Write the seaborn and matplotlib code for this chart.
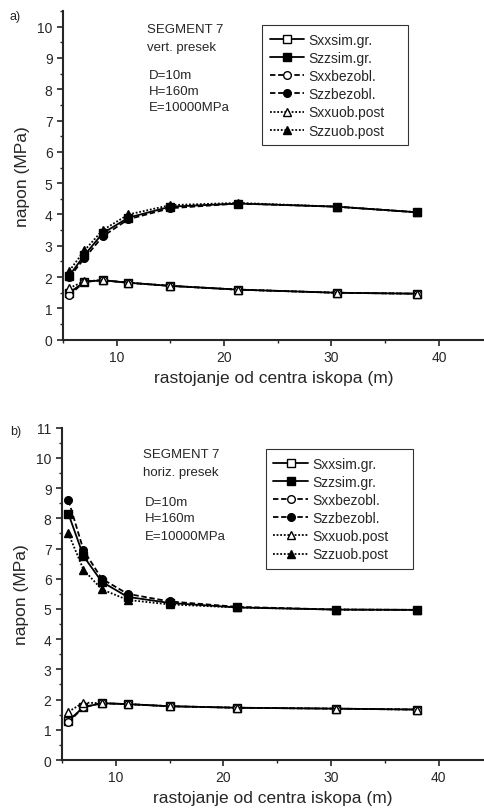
import numpy as np
import matplotlib
matplotlib.use("Agg")
import matplotlib.pyplot as plt
from matplotlib.ticker import MultipleLocator
import seaborn as sns

# rastojanje od centra iskopa (m)
x = [5.6, 7.0, 8.7, 11.1, 15.0, 21.3, 30.5, 38.0]

# a) vertikalni presek
a_sxx_sim = [1.50, 1.85, 1.90, 1.82, 1.72, 1.60, 1.50, 1.47]
a_szz_sim = [2.05, 2.70, 3.40, 3.90, 4.25, 4.35, 4.25, 4.07]
a_sxx_bez = [1.42, 1.85, 1.90, 1.82, 1.72, 1.60, 1.50, 1.47]
a_szz_bez = [2.00, 2.60, 3.30, 3.85, 4.20, 4.35, 4.25, 4.07]
a_sxx_uob = [1.65, 1.87, 1.90, 1.82, 1.72, 1.60, 1.50, 1.47]
a_szz_uob = [2.20, 2.85, 3.50, 4.00, 4.30, 4.37, 4.25, 4.07]

# b) horizontalni presek
b_sxx_sim = [1.30, 1.75, 1.88, 1.85, 1.78, 1.73, 1.70, 1.67]
b_szz_sim = [8.15, 6.75, 5.90, 5.40, 5.20, 5.05, 4.98, 4.97]
b_sxx_bez = [1.25, 1.75, 1.88, 1.85, 1.78, 1.73, 1.70, 1.67]
b_szz_bez = [8.60, 6.95, 6.00, 5.50, 5.25, 5.07, 4.98, 4.97]
b_sxx_uob = [1.60, 1.90, 1.88, 1.85, 1.78, 1.73, 1.70, 1.67]
b_szz_uob = [7.50, 6.30, 5.65, 5.30, 5.15, 5.05, 4.98, 4.97]

labels = ["Sxxsim.gr.", "Szzsim.gr.", "Sxxbezobl.", "Szzbezobl.", "Sxxuob.post", "Szzuob.post"]
markers = ["s", "s", "o", "o", "^", "^"]
fills = ["white", "black", "white", "black", "white", "black"]
styles = ["-", "-", (0, (3, 1.5)), (0, (3, 1.5)), (0, (1, 1)), (0, (1, 1))]

sns.set_style("ticks")
plt.rcParams['font.family'] = ['Liberation Sans', 'DejaVu Sans']

fig = plt.figure(figsize=(4.84, 8.12), dpi=100)
ax_a = fig.add_axes([0.130, 0.5804, 0.870, 0.4048])
ax_b = fig.add_axes([0.128, 0.0628, 0.872, 0.4092])


def draw(ax, series, ymax, yticks_max):
    for i, y in enumerate(series):
        sns.lineplot(x=x, y=y, ax=ax, color="k", marker=markers[i],
                     markerfacecolor=fills[i], markeredgecolor="k",
                     markersize=5.5, markeredgewidth=1.0,
                     linestyle=styles[i], linewidth=1.3, label=labels[i])
    ax.set_xlim(5, 44.2)
    ax.set_ylim(0, ymax)
    ax.xaxis.set_major_locator(MultipleLocator(10))
    ax.xaxis.set_minor_locator(MultipleLocator(5))
    ax.yaxis.set_major_locator(MultipleLocator(1))
    ax.yaxis.set_minor_locator(MultipleLocator(0.5))
    ax.set_yticks(np.arange(0, yticks_max + 1, 1))
    ax.tick_params(which="major", direction="out", length=4, width=1.2, labelsize=10)
    ax.tick_params(which="minor", direction="out", length=2.5, width=1.0)
    for s in ["top", "right"]:
        ax.spines[s].set_visible(False)
    for s in ["left", "bottom"]:
        ax.spines[s].set_linewidth(1.5)
    ax.set_xlabel("rastojanje od centra iskopa (m)", fontsize=12.5)
    ax.set_ylabel("napon (MPa)", fontsize=12.5, labelpad=5)


draw(ax_a, [a_sxx_sim, a_szz_sim, a_sxx_bez, a_szz_bez, a_sxx_uob, a_szz_uob], 10.5, 10)
draw(ax_b, [b_sxx_sim, b_szz_sim, b_sxx_bez, b_szz_bez, b_sxx_uob, b_szz_uob], 11, 11)

for ax, box in [(ax_a, (0.473, 0.5, 0.347, 0.457)), (ax_b, (0.483, 0.5, 0.348, 0.436))]:
    leg = ax.legend(loc="upper left", bbox_to_anchor=box, mode="expand", fontsize=10,
                    frameon=True, fancybox=False, edgecolor="k", handlelength=2.5,
                    handletextpad=0.3, labelspacing=0.3, borderpad=0.55,
                    borderaxespad=0)
    leg.get_frame().set_linewidth(0.8)

# tekst u grafiku a)
ax_a.text(0.20, 0.945, "SEGMENT 7", transform=ax_a.transAxes, fontsize=9.5, va="center")
ax_a.text(0.20, 0.89, "vert. presek", transform=ax_a.transAxes, fontsize=9.5, va="center")
ax_a.text(0.205, 0.805, "D=10m", transform=ax_a.transAxes, fontsize=9.5, va="center")
ax_a.text(0.205, 0.757, "H=160m", transform=ax_a.transAxes, fontsize=9.5, va="center")
ax_a.text(0.205, 0.708, "E=10000MPa", transform=ax_a.transAxes, fontsize=9.5, va="center")

# tekst u grafiku b)
ax_b.text(0.192, 0.921, "SEGMENT 7", transform=ax_b.transAxes, fontsize=9.5, va="center")
ax_b.text(0.192, 0.867, "horiz. presek", transform=ax_b.transAxes, fontsize=9.5, va="center")
ax_b.text(0.197, 0.776, "D=10m", transform=ax_b.transAxes, fontsize=9.5, va="center")
ax_b.text(0.197, 0.728, "H=160m", transform=ax_b.transAxes, fontsize=9.5, va="center")
ax_b.text(0.197, 0.674, "E=10000MPa", transform=ax_b.transAxes, fontsize=9.5, va="center")

fig.text(10 / 484, 1 - 17 / 812, "a)", fontsize=9, va="center")
fig.text(10 / 484, 1 - 432 / 812, "b)", fontsize=9, va="center")

fig.savefig("out.png", dpi=100)
